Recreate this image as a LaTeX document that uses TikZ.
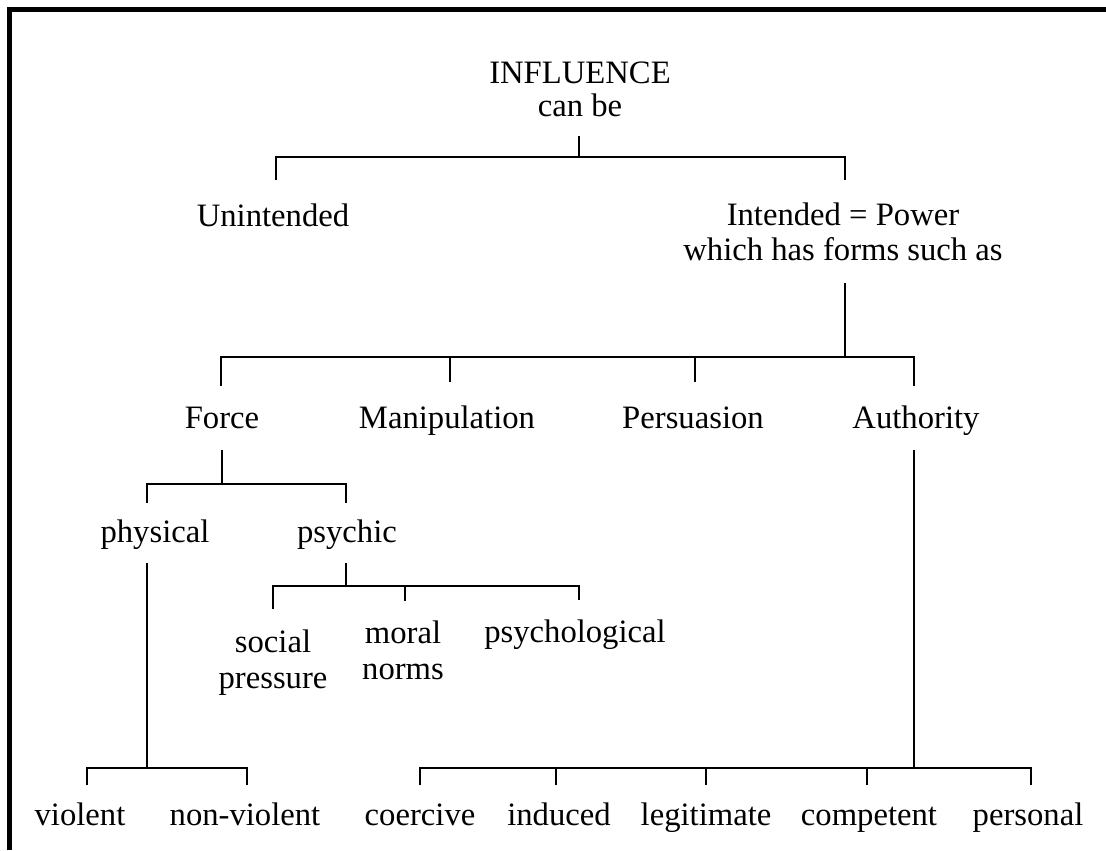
\documentclass[tikz,border=0pt]{standalone}
\usepackage{fontspec}
\setmainfont{Liberation Serif}
% centred stack of lines whose baseline is that of the first line
\newcommand{\twoline}[1]{\begin{tabular}[t]{@{}c@{}}#1\end{tabular}}
\begin{document}
\begin{tikzpicture}[x=0.75pt,y=-0.75pt,
  lbl/.style={inner sep=0pt, anchor=base, font=\fontsize{24.5}{27}\selectfont},
  link/.style={line width=1.5pt, line join=miter}]
\useasboundingbox (0,0) rectangle (1106,850);
\fill[white] (0,0) rectangle (1106,850);
% heavy frame along the top and left edges
\draw[line width=3.75pt] (9.5,850) -- (9.5,9.5) -- (1106,9.5);

% ---- labels ----
\node[lbl] (infl)  at (580,83)  {\twoline{INFLUENCE\\[-2.25pt]can be}};
\node[lbl] (unint) at (273,226) {Unintended};
\node[lbl] (intd)  at (843,225) {\twoline{Intended = Power\\[-0.75pt]which has forms such as}};

\node[lbl] (force) at (222,428) {Force};
\node[lbl] (manip) at (447,428) {Manipulation};
\node[lbl] (persu) at (693,428) {Persuasion};
\node[lbl] (auth)  at (916,428) {Authority};

\node[lbl] (phys)  at (155,542) {physical};
\node[lbl] (psych) at (347,542) {psychic};

\node[lbl] (social) at (273,652) {\twoline{social\\pressure}};
\node[lbl] (moral)  at (403,643) {\twoline{moral\\norms}};
\node[lbl] (psyl)   at (575,642) {psychological};

\node[lbl] (viol)  at (80,825)   {violent};
\node[lbl] (nonv)  at (245,825)  {non-violent};
\node[lbl] (coer)  at (420,825)  {coercive};
\node[lbl] (induc) at (559,825)  {induced};
\node[lbl] (legit) at (706,825)  {legitimate};
\node[lbl] (compt) at (869,825)  {competent};
\node[lbl] (perso) at (1028,825) {personal};

% ---- branch points ----
\coordinate (infl-s)  at (579,136);
\coordinate (b1)      at (579,157);
\coordinate (unint-t) at (276,180);
\coordinate (intd-t)  at (845,180);

\coordinate (intd-s)  at (845,283);
\coordinate (b2)      at (845,357);
\coordinate (force-t) at (221,386);
\coordinate (manip-t) at (449.6,382);
\coordinate (persu-t) at (695.4,382);
\coordinate (auth-t)  at (914,386);

\coordinate (force-s) at (222,450);
\coordinate (b3)      at (222,484);
\coordinate (phys-t)  at (147,503);
\coordinate (psych-t) at (346,503);

\coordinate (psych-s)  at (346,563);
\coordinate (b4)       at (346,586);
\coordinate (social-t) at (273,609);
\coordinate (moral-t)  at (405,601);
\coordinate (psyl-t)   at (579,600);

\coordinate (phys-s) at (147,563);
\coordinate (b5)     at (147,768);
\coordinate (viol-t) at (87,785);
\coordinate (nonv-t) at (247,785);

\coordinate (auth-s)  at (914,450);
\coordinate (b6)      at (914,768);
\coordinate (coer-t)  at (420,785);
\coordinate (induc-t) at (556,785);
\coordinate (legit-t) at (706,785);
\coordinate (compt-t) at (867,785);
\coordinate (perso-t) at (1031,785);

% ---- brackets ----
\draw[link] (infl-s) -- (b1);
\draw[link] (unint-t) |- (b1) -| (intd-t);

\draw[link] (intd-s) -- (b2);
\draw[link] (force-t) |- (b2) -| (auth-t);
\draw[link] (manip-t) -- (manip-t |- b2);
\draw[link] (persu-t) -- (persu-t |- b2);

\draw[link] (force-s) -- (b3);
\draw[link] (phys-t) |- (b3) -| (psych-t);

\draw[link] (psych-s) -- (b4);
\draw[link] (social-t) |- (b4) -| (psyl-t);
\draw[link] (moral-t) -- (moral-t |- b4);

\draw[link] (phys-s) -- (b5);
\draw[link] (viol-t) |- (b5) -| (nonv-t);

\draw[link] (auth-s) -- (b6);
\draw[link] (coer-t) |- (b6) -| (perso-t);
\draw[link] (induc-t) -- (induc-t |- b6);
\draw[link] (legit-t) -- (legit-t |- b6);
\draw[link] (compt-t) -- (compt-t |- b6);
\end{tikzpicture}
\end{document}
